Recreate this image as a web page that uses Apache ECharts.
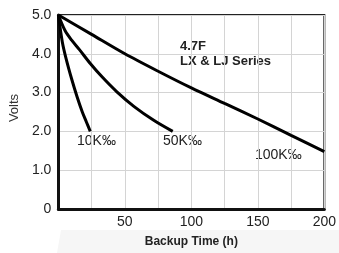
<!DOCTYPE html>
<html>
<head>
<meta charset="utf-8">
<script src="https://cdn.jsdelivr.net/npm/echarts@6/dist/echarts.min.js"></script>
<style>
  html, body { margin: 0; padding: 0; background: #fff; }
  #chart { width: 339px; height: 253px; }
</style>
</head>
<body>
<div id="chart"></div>
<script>
  // backup time (h) and volts
  const hours10k = [0, 3, 6, 10, 14, 18, 21, 24];
  const volts10k = [5.0, 4.3, 3.85, 3.35, 2.9, 2.5, 2.25, 2.0];
  const hours50k = [0, 5, 10, 16, 24, 33, 44, 57, 72, 86];
  const volts50k = [5.0, 4.6, 4.35, 4.1, 3.75, 3.4, 3.02, 2.64, 2.28, 2.0];
  const hours100k = [0, 25, 50, 75, 100, 125, 150, 175, 200];
  const volts100k = [5.0, 4.5, 4.0, 3.55, 3.12, 2.72, 2.32, 1.9, 1.48];
  const xTickLabels = ["50", "100", "150", "200"];
  const yTickLabels = ["0", "1.0", "2.0", "3.0", "4.0", "5.0"];

  const font = "'Liberation Sans', Arial, sans-serif";
  const pairs = (xs, ys) => xs.map((x, i) => [x, ys[i]]);
  const curve = (name, xs, ys) => ({
    name, type: "line", data: pairs(xs, ys), smooth: 0.3, showSymbol: false,
    lineStyle: { color: "#000", width: 3 }, z: 5
  });

  const chart = echarts.init(document.getElementById("chart"), null, { renderer: "canvas" });
  chart.setOption({
    animation: false,
    grid: { left: 55, right: 14, top: 15, bottom: 44, show: true, borderColor: "#222", borderWidth: 2 },
    xAxis: {
      type: "value", min: 0, max: 200, interval: 25,
      axisLine: { show: true, lineStyle: { color: "#111", width: 3 } },
      axisTick: { show: false },
      axisLabel: {
        color: "#222", fontSize: 14, fontFamily: font, margin: 6,
        formatter: v => xTickLabels.includes(String(v)) ? String(v) : ""
      },
      splitLine: { show: true, lineStyle: { color: "#d4d4d4", width: 1 } },
      name: "Backup Time (h)", nameLocation: "middle", nameGap: 27,
      nameTextStyle: { color: "#222", fontSize: 12, fontWeight: "bold", fontFamily: font }
    },
    yAxis: {
      type: "value", min: 0, max: 5, interval: 1,
      axisLine: { show: true, lineStyle: { color: "#111", width: 3 } },
      axisTick: { show: false },
      axisLabel: {
        color: "#222", fontSize: 14, fontFamily: font, margin: 7,
        formatter: v => yTickLabels[Math.round(v)]
      },
      splitLine: { show: true, lineStyle: { color: "#d4d4d4", width: 1 } },
      name: "Volts", nameLocation: "middle", nameGap: 34, nameRotate: 90,
      nameTextStyle: { color: "#333", fontSize: 13, fontFamily: font, padding: [0, 0, 0, 8] }
    },
    series: [
      curve("10K", hours10k, volts10k),
      curve("50K", hours50k, volts50k),
      curve("100K", hours100k, volts100k)
    ],
    graphic: [
      { type: "polygon", z: -10, shape: { points: [[61, 230], [339, 230], [339, 253], [57, 253]] }, style: { fill: "#f6f6f6" } },
      { type: "text", left: 77, top: 134, style: { text: "10K‰", fill: "#222", font: "14px " + font } },
      { type: "text", left: 163, top: 134, style: { text: "50K‰", fill: "#222", font: "14px " + font } },
      { type: "text", left: 255, top: 148, style: { text: "100K‰", fill: "#222", font: "14px " + font } },
      { type: "text", left: 180, top: 40, style: { text: "4.7F", fill: "#222", font: "bold 13px " + font } },
      { type: "text", left: 180, top: 55, style: { text: "LX & LJ Series", fill: "#222", font: "bold 13px " + font } }
    ]
  });
</script>
</body>
</html>
